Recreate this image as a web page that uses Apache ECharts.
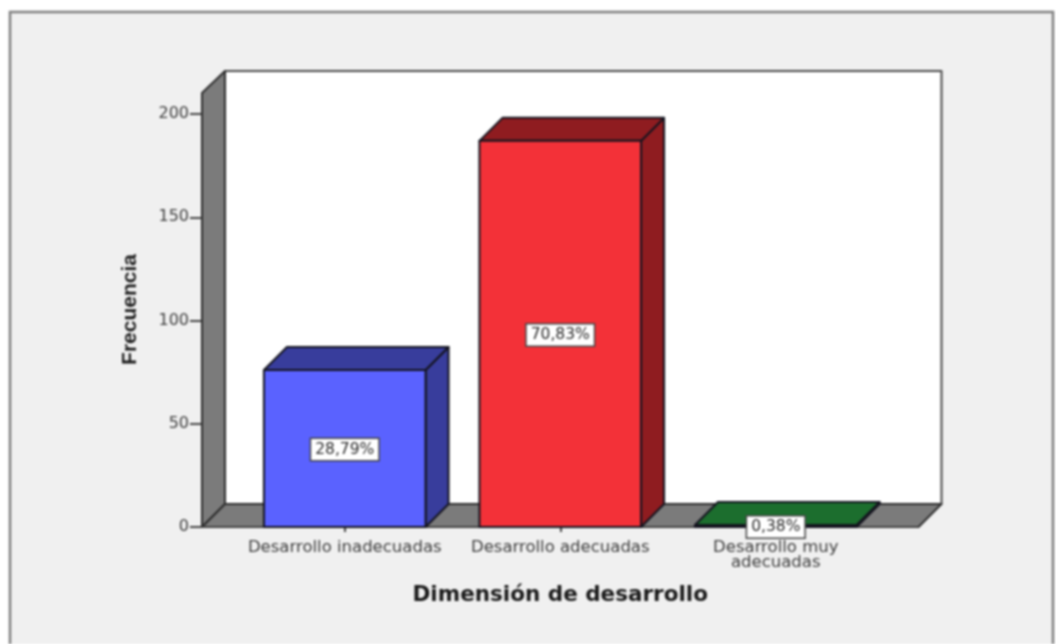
<!DOCTYPE html>
<html>
<head>
<meta charset="utf-8">
<title>Dimensión de desarrollo</title>
<script src="https://cdn.jsdelivr.net/npm/echarts@6/dist/echarts.min.js"></script>
<style>
  html, body { margin: 0; padding: 0; background: #fff; }
  #chart { width: 1056px; height: 644px; filter: blur(0.8px); }
</style>
</head>
<body>
<div id="chart"></div>
<script>
// datos
var categories = ['Desarrollo inadecuadas', 'Desarrollo adecuadas', 'Desarrollo muy\nadecuadas'];
var frecuencias = [76, 187, 1];
var porcentajes = ['28,79%', '70,83%', '0,38%'];
var yTicks = { min: 0, max: 200, interval: 50 };

// colores: frente, lado/arriba
var frontColors = ['#5a62ff', '#f33138', '#0c3a16'];
var sideColors = ['#383d9c', '#8f1c20', '#1c6e2e'];

// profundidad del efecto 3D
var depthX = 23;
var depthY = 23;
var barRatio = 0.75;
var wallExtra = 35; // el piso sobresale de la banda de categorias

function poly(points, fill, stroke, width) {
  return {
    type: 'polygon',
    shape: { points: points },
    style: { fill: fill, stroke: stroke, lineWidth: width || 2, lineJoin: 'round' }
  };
}

// pared de fondo, pared izquierda y piso
function renderWalls(params, api) {
  var c = params.coordSys;
  var left = c.x - wallExtra;
  var right = c.x + c.width + wallExtra;
  var bottom = c.y + c.height;
  var top = c.y - 21;
  var wallColor = '#7b7b7b';
  var edge = '#2e2e2e';
  return {
    type: 'group',
    children: [
      poly([[left + depthX, top - depthY + 1], [right + depthX, top - depthY + 1], [right + depthX, bottom - depthY], [left + depthX, bottom - depthY]], '#fff', '#4a4a4a'),
      poly([[left, top], [left + depthX, top - depthY + 1], [left + depthX, bottom - depthY], [left, bottom]], wallColor, edge),
      poly([[left, bottom], [left + depthX, bottom - depthY], [right + depthX, bottom - depthY], [right, bottom]], wallColor, edge),
      { type: 'line', shape: { x1: left, y1: bottom, x2: right, y2: bottom }, style: { stroke: '#444', lineWidth: 2 } }
    ]
  };
}

function renderBar(params, api) {
  var i = api.value(2);
  var top = api.coord([api.value(0), api.value(1)]);
  var base = api.coord([api.value(0), 0]);
  var w = api.size([1, 0])[0] * barRatio;
  var x0 = top[0] - w / 2;
  var x1 = top[0] + w / 2;
  var y0 = top[1];
  var y1 = base[1];
  var edge = '#14141f';
  return {
    type: 'group',
    children: [
      poly([[x1, y0], [x1 + depthX, y0 - depthY], [x1 + depthX, y1 - depthY], [x1, y1]], sideColors[i], edge),
      poly([[x0, y0], [x0 + depthX, y0 - depthY], [x1 + depthX, y0 - depthY], [x1, y0]], sideColors[i], edge),
      poly([[x0, y0], [x1, y0], [x1, y1], [x0, y1]], frontColors[i], edge),
      {
        type: 'text',
        x: top[0],
        y: (y0 + y1) / 2 + 1,
        z2: 10,
        style: {
          text: porcentajes[i],
          font: '15.5px "DejaVu Sans"',
          fill: '#2a2a2a',
          align: 'center',
          verticalAlign: 'middle',
          backgroundColor: '#fff',
          borderColor: '#444',
          borderWidth: 1.5,
          padding: [3, 4, 2, 4]
        }
      }
    ]
  };
}

var chart = echarts.init(document.getElementById('chart'));
chart.setOption({
  animation: false,
  backgroundColor: '#fff',
  graphic: [{
    type: 'rect',
    z: -10,
    shape: { x: 10, y: 12, width: 1043, height: 640 },
    style: { fill: '#f0f0f0', stroke: '#808080', lineWidth: 2.5 }
  }],
  grid: { left: 237, top: 114, width: 646.5, height: 413 },
  xAxis: {
    type: 'category',
    data: categories,
    name: 'Dimensión de desarrollo',
    nameLocation: 'middle',
    nameGap: 57,
    nameTextStyle: { fontFamily: 'DejaVu Sans', fontWeight: 'bold', fontSize: 21.5, color: '#1a1a1a' },
    axisLine: { show: false },
    axisTick: { show: true, alignWithLabel: true, length: 5, lineStyle: { color: '#444', width: 2 } },
    axisLabel: {
      interval: 0,
      margin: 13,
      fontFamily: 'DejaVu Sans',
      fontSize: 16.5,
      lineHeight: 15,
      color: '#3c3c3c'
    },
    splitLine: { show: false }
  },
  yAxis: {
    type: 'value',
    min: yTicks.min,
    max: yTicks.max,
    interval: yTicks.interval,
    offset: wallExtra,
    name: 'Frecuencia',
    nameLocation: 'middle',
    nameGap: 61,
    nameRotate: 90,
    nameTextStyle: {
      fontFamily: 'Liberation Sans',
      fontWeight: 'bold',
      fontSize: 21,
      color: '#1a1a1a',
      padding: [0, 0, 0, 22]
    },
    axisLine: { show: false },
    axisTick: { show: true, length: 12, lineStyle: { color: '#444', width: 2 } },
    axisLabel: { margin: 13, fontFamily: 'DejaVu Sans', fontSize: 16, color: '#3c3c3c', padding: [7, 0, 0, 0] },
    splitLine: { show: false }
  },
  series: [
    { type: 'custom', z: 1, silent: true, renderItem: renderWalls, data: [[0, 0]] },
    {
      type: 'custom',
      z: 3,
      renderItem: renderBar,
      encode: { x: 0, y: 1 },
      data: categories.map(function (c, i) { return [i, frecuencias[i], i]; })
    }
  ]
});
</script>
</body>
</html>
